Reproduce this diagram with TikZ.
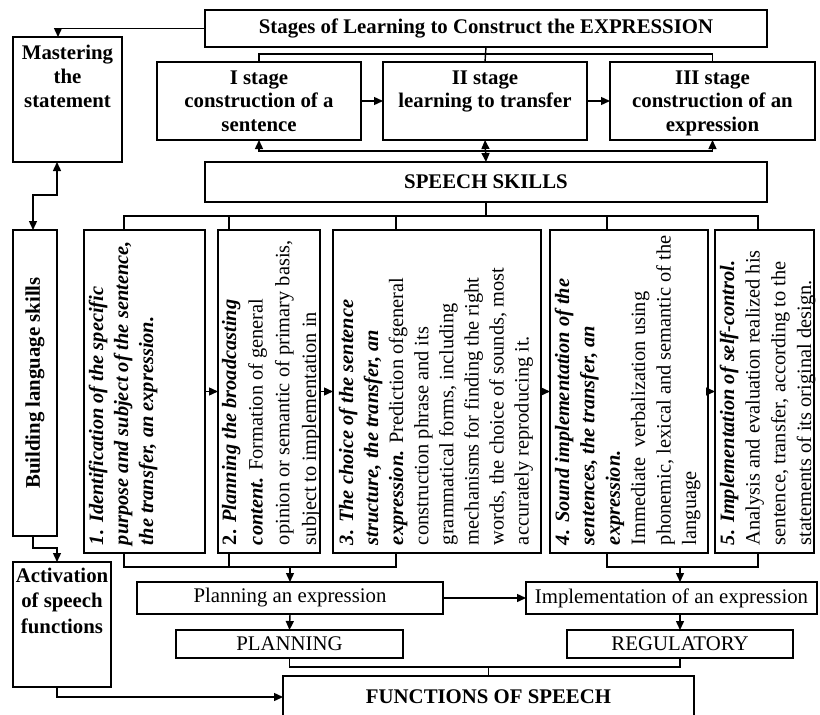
\documentclass[tikz,border=0pt]{standalone}
\usepackage{fontspec}
\setmainfont{Liberation Serif}
\usetikzlibrary{arrows.meta,calc}
\newcommand{\tbox}[4]{\parbox[c][#2][t]{#1}{\centering\rule{0pt}{#3}#4}}
\newcommand{\rtext}[3]{\parbox[t]{314pt}{\raggedright\fontsize{20.4}{#1}\selectfont\rule{0pt}{#2}#3}}
\begin{document}
\begin{tikzpicture}[x=1pt,y=-1pt,
  every node/.style={inner sep=0pt, outer sep=0pt},
  bx/.style={draw, line width=1.4pt},
  ln/.style={line width=1.4pt},
  arr/.style={line width=1.4pt, -{Triangle[length=9pt,width=8pt]}},
  arrb/.style={line width=1.4pt, {Triangle[length=9pt,width=8pt]}-{Triangle[length=9pt,width=8pt]}},
  hf/.style={font=\fontsize{20.8}{23.5}\selectfont},
  hb/.style={font=\fontsize{20.8}{23.5}\selectfont\bfseries}]
\fill[white] (0,0) rectangle (820,715);
\useasboundingbox (0,0) rectangle (820,715);
\clip (0,0) rectangle (820,715);

% top
\node[bx, hb, minimum width=562pt, minimum height=37pt] (title) at (486,28.5) {Stages of Learning to Construct the EXPRESSION};
\node[bx, hb] (mast) at (67.5,99.5) {\tbox{109pt}{125pt}{22pt}{\baselineskip=24pt Mastering\\the\\statement}};
\node[bx, hb] (s1) at (259,101) {\tbox{204pt}{78pt}{22pt}{I stage\\construction of a\\sentence}};
\node[bx, hb] (s2) at (485,101) {\tbox{204pt}{78pt}{22pt}{II stage\\learning to transfer}};
\node[bx, hb] (s3) at (712.5,101) {\tbox{205pt}{78pt}{22pt}{III stage\\construction of an\\expression}};
\node[bx, hb, minimum width=562pt, minimum height=40pt] (skills) at (486,182) {SPEECH SKILLS};

% left column
\node[bx, minimum width=44pt, minimum height=306pt] (build) at (35,383) {};
\node[hb, rotate=90] (buildt) at (build.center) {Building language skills};
\node[bx, hb] (act) at (62,624.5) {\tbox{98pt}{125pt}{20pt}{\baselineskip=25.5pt Activation\\of speech\\functions}};

% five boxes
\node[bx, minimum width=121pt, minimum height=323pt] (b1) at (144.5,391.5) {};
\node[bx, minimum width=102pt, minimum height=323pt] (b2) at (269,391.5) {};
\node[bx, minimum width=208pt, minimum height=323pt] (b3) at (437,391.5) {};
\node[bx, minimum width=158pt, minimum height=323pt] (b4) at (629,391.5) {};
\node[bx, minimum width=99pt, minimum height=323pt] (b5) at (764.5,391.5) {};

\node[rotate=90, anchor=north west] (t1) at ($(b1.south west)+(0,-8)$) {\rtext{25pt}{19pt}{\bfseries\itshape 1. Identification of the specific\\purpose and subject of the sentence,\\the transfer, an expression.}};
\node[rotate=90, anchor=north west] (t2) at ($(b2.south west)+(0,-8)$) {\rtext{26.7pt}{18pt}{\textbf{2. \textit{Planning the broadcasting}}\\\textbf{\textit{content.}} Formation of general\\opinion or semantic of primary basis,\\subject to implementation in}};
\node[rotate=90, anchor=north west] (t3) at ($(b3.south west)+(0,-8)$) {\rtext{25.1pt}{20pt}{\textbf{\textit{3. The choice of the sentence}}\\\textbf{\textit{structure, the transfer, an}}\\\textbf{\textit{expression.}} Prediction ofgeneral\\construction phrase and its\\grammatical forms, including\\mechanisms for finding the right\\words, the choice of sounds, most\\accurately reproducing it.}};
\node[rotate=90, anchor=north west] (t4) at ($(b4.south west)+(0,-8)$) {\rtext{25.4pt}{19pt}{\textbf{\textit{4. Sound implementation of the}}\\\textbf{\textit{sentences, the transfer, an}}\\\textbf{\textit{expression.}}\\Immediate\ \ verbalization using\\phonemic, lexical and semantic of the\\language}};
\node[rotate=90, anchor=north west] (t5) at ($(b5.south west)+(0,-8)$) {\rtext{25.7pt}{19pt}{\textbf{\textit{5. Implementation of self-control.}}\\Analysis and evaluation realized his\\sentence, transfer, according to the\\statements of its original design.}};

% bottom
\node[bx, hf, minimum width=306pt, minimum height=32pt] (plan) at (290,598) {Planning an expression};
\node[bx, hf, minimum width=291pt, minimum height=32pt] (impl) at (671.5,598) {Implementation of an expression};
\node[bx, hf, minimum width=227pt, minimum height=28pt] (pl) at (289.5,644) {PLANNING};
\node[bx, hf, minimum width=226pt, minimum height=28pt] (reg) at (680,644) {REGULATORY};
\node[bx, hb, minimum width=411pt, minimum height=42pt] (func) at (488.5,697) {FUNCTIONS OF SPEECH};

% connectors top
\draw[arr] (title.west) -| ($(mast.north west)+(45,0)$);
\draw[ln] (title.south) -- (s2.north);
\draw[ln] (s1.north) -- ++(0,-8) -| (s3.north);
\draw[arr] (s1.east) -- (s2.west);
\draw[arr] (s2.east) -- (s3.west);
\draw[arrb] (s1.south) -- ++(0,11) -| (s3.south);
\draw[arrb] (s2.south) -- (skills.north);

% skills to boxes
\coordinate (d1) at ($(b1.north west)+(40,0)$);
\coordinate (d2) at ($(b2.north west)+(11,0)$);
\coordinate (d3) at ($(b3.north west)+(63,0)$);
\coordinate (d4) at ($(b4.north west)+(57,0)$);
\coordinate (d5) at ($(b5.north west)+(43,0)$);
\draw[ln] (d1) -- ++(0,-14) -| (d5);
\draw[ln] (d2) -- ++(0,-14);
\draw[ln] (d3) -- ++(0,-14);
\draw[ln] (d4) -- ++(0,-14);
\draw[ln] (skills.south) -- ++(0,14);

\draw[arr] (b1.east) -- (b2.west);
\draw[arr] (b2.east) -- (b3.west);
\draw[arr] (b3.east) -- (b4.west);
\draw[arr] (b4.east) -- (b5.west);

% boxes to bottom
\coordinate (u1) at ($(b1.south west)+(40,0)$);
\coordinate (u2) at ($(b2.south west)+(11,0)$);
\coordinate (u3) at ($(b3.south west)+(63,0)$);
\coordinate (u4) at ($(b4.south west)+(57,0)$);
\coordinate (u5) at ($(b5.south west)+(43,0)$);
\draw[ln] (u1) -- ++(0,14) coordinate (j1) -| (u3);
\draw[ln] (u2) -- ++(0,14);
\draw[ln] (u4) -- ++(0,14) coordinate (j2) -| (u5);
\draw[arr] (j1 -| plan.north) -- (plan.north);
\draw[arr] (j2 -| reg.north) -- (reg.north |- impl.north);
\draw[arr] (plan.east) -- (impl.west);
\draw[arr] (plan.south) -- (pl.north);
\draw[arr] (impl.south -| reg.north) -- (reg.north);
\draw[ln] (pl.south) -- ++(0,9) coordinate (j3) -| (reg.south);
\draw[ln] (j3 -| func.north) -- (func.north);

% left connectors
\draw[arrb] ($(mast.south west)+(44,0)$) -- ++(0,33) -| ($(build.north west)+(20,0)$);
\draw[arr] ($(build.south west)+(20,0)$) -- ++(0,12) -| ($(act.north west)+(44,0)$);
\draw[arr] ($(act.south west)+(44,0)$) |- (func.west);
\end{tikzpicture}
\end{document}
